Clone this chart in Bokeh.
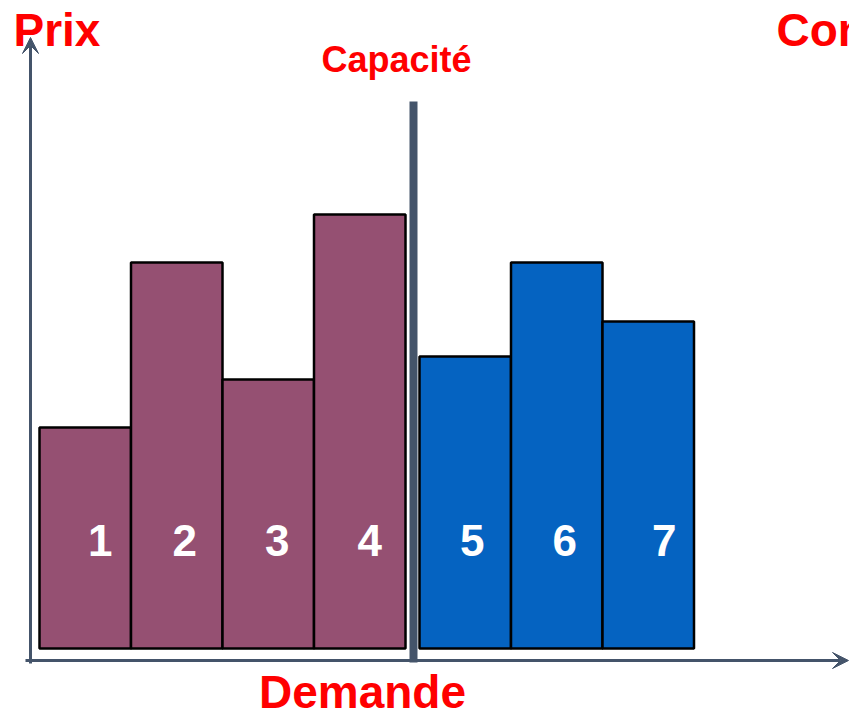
from bokeh.plotting import figure
from bokeh.models import ColumnDataSource, Arrow, VeeHead
from bokeh.core.properties import value
from bokeh.embed import file_html
from bokeh.resources import INLINE

# ---- data ----
ranks = ["1", "2", "3", "4", "5", "6", "7"]
prices = [221, 386, 269, 434, 292, 386, 327]
served = [True, True, True, True, False, False, False]
capacity = 413
title_y = "Prix"
title_x = "Demande"
title_cap = "Capacité"
title_right = "Con"

# ---- layout constants ----
W, H = 849, 718
baseline = 70
bar_w = 91.5
left0 = 39
gap = 14
label_dx = [15, 8, 9, 10, 7, 8, 16]
purple = "#955072"
blue = "#0563C1"
axis_col = "#44546A"
red = "#FF0000"
font = value("Liberation Sans")

lefts = []
x = left0
for i, s in enumerate(served):
    if i > 0 and served[i - 1] and not s:
        x += gap
    lefts.append(x)
    x += bar_w
rights = [l + bar_w for l in lefts]
centers = [(l + r) / 2 for l, r in zip(lefts, rights)]
colors = [purple if s else blue for s in served]

src = ColumnDataSource(dict(
    left=lefts, right=rights, bottom=[baseline] * len(prices),
    top=[baseline + v for v in prices], color=colors,
    tx=[c + d for c, d in zip(centers, label_dx)], ty=[178] * len(prices), label=ranks,
))

p = figure(width=W, height=H, x_range=(0, W), y_range=(0, H),
           output_backend="svg", toolbar_location=None, min_border=0)
p.axis.visible = False
p.grid.visible = False
p.outline_line_color = None
p.background_fill_color = "white"

p.quad(left="left", right="right", bottom="bottom", top="top", source=src,
       fill_color="color", line_color="black", line_width=2.5)
p.text(x="tx", y="ty", text="label", source=src, text_color="white",
       text_font=font, text_font_style="bold", text_font_size="44px",
       text_align="center", text_baseline="alphabetic")

# axes with arrows
p.add_layout(Arrow(end=VeeHead(size=16, fill_color=axis_col, line_color=axis_col),
                   x_start=30, y_start=55, x_end=30, y_end=681,
                   line_color=axis_col, line_width=3))
p.add_layout(Arrow(end=VeeHead(size=16, fill_color=axis_col, line_color=axis_col),
                   x_start=25, y_start=58, x_end=848, y_end=58,
                   line_color=axis_col, line_width=3))

# capacity line
p.segment(x0=[capacity], y0=[56], x1=[capacity], y1=[617],
          line_color=axis_col, line_width=8)

# titles
p.text(x=[13], y=[689], text=[title_y], text_color=red, text_font=font,
       text_font_style="bold", text_font_size="46px", text_align="left",
       text_baseline="alphabetic")
p.text(x=[776], y=[689], text=[title_right], text_color=red, text_font=font,
       text_font_style="bold", text_font_size="46px", text_align="left",
       text_baseline="alphabetic")
p.text(x=[396], y=[659], text=[title_cap], text_color=red, text_font=font,
       text_font_style="bold", text_font_size="36px", text_align="center",
       text_baseline="alphabetic")
p.text(x=[362], y=[27], text=[title_x], text_color=red, text_font=font,
       text_font_style="bold", text_font_size="46px", text_align="center",
       text_baseline="alphabetic")

open("out.html", "w").write(file_html(p, INLINE))
